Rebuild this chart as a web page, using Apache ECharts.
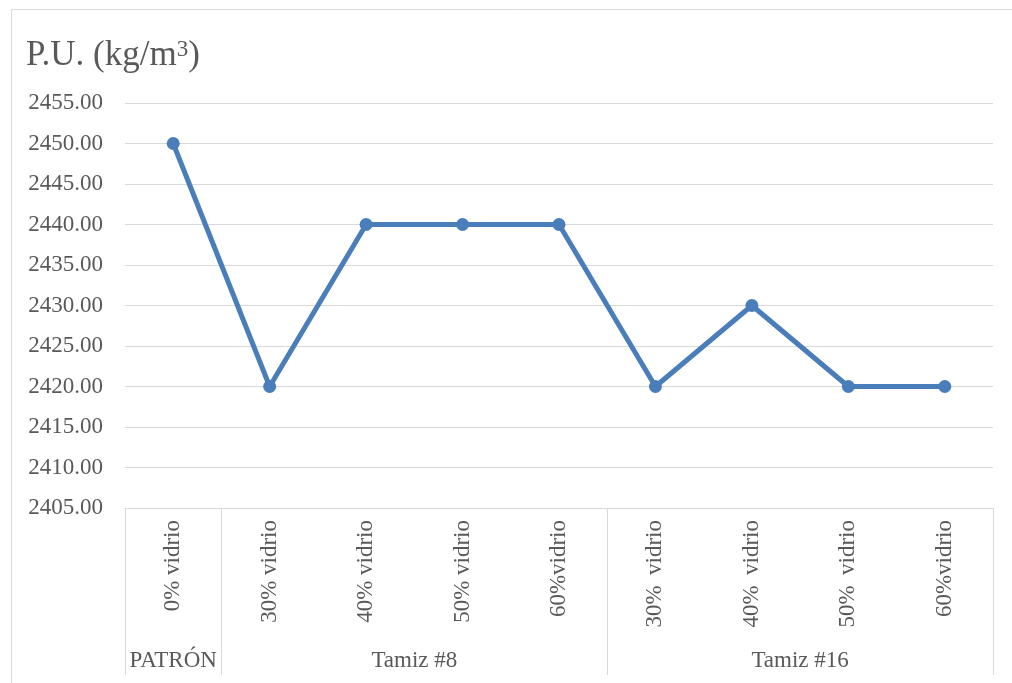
<!DOCTYPE html>
<html lang="es">

<head>
  <meta charset="UTF-8">
  <title>P.U. (kg/m3)</title>
  <style>
    html, body { margin: 0; padding: 0; background: #fff; }
    #main { width: 1012px; height: 683px; }
  </style>
</head>

<body>
<div id="main"></div>
<script src="https://cdn.jsdelivr.net/npm/echarts@6/dist/echarts.min.js"></script>
<script>
  // datos
  const categories = ['0% vidrio', '30% vidrio', '40% vidrio', '50% vidrio', '60%vidrio',
    '30% \u2009vidrio', '40% \u2009vidrio', '50% \u2009vidrio', '60%vidrio'];
  const values = [2450, 2420, 2440, 2440, 2440, 2420, 2430, 2420, 2420];
  const groups = ['PATRÓN', 'Tamiz #8', 'Tamiz #16'];
  const groupSizes = [1, 4, 4];

  // limites y centros de cada grupo
  const bounds = [0];
  const centers = [];
  groupSizes.forEach(n => {
    const start = bounds[bounds.length - 1];
    centers.push(start + n / 2);
    bounds.push(start + n);
  });

  const font = '"Liberation Serif", "Times New Roman", serif';
  const gray = '#595959';
  const lineGray = '#d9d9d9';

  let chart = echarts.init(document.getElementById('main'));
  let option = {
    backgroundColor: '#fff',
    animation: false,
    textStyle: { fontFamily: font },
    title: {
      text: '{a|P.U. (kg/m}{b|3}{a|)}',
      left: 21,
      top: 28,
      textStyle: {
        fontWeight: 'normal',
        rich: {
          a: { fontFamily: font, fontSize: 35, fontWeight: 'normal', color: gray, lineHeight: 46 },
          b: { fontFamily: font, fontSize: 23, fontWeight: 'normal', color: gray, verticalAlign: 'top', lineHeight: 30, padding: [5, 0, 0, 0] }
        }
      }
    },
    graphic: [{
      type: 'rect',
      left: 9,
      top: 7,
      shape: { width: 1100, height: 800 },
      style: { fill: 'none', stroke: lineGray, lineWidth: 1 },
      z: -10
    }],
    grid: { left: 125, right: 19, top: 103, bottom: 175 },
    xAxis: [{
      type: 'category',
      data: categories,
      boundaryGap: true,
      axisLine: { lineStyle: { color: lineGray, width: 1 } },
      axisTick: { show: false },
      axisLabel: {
        rotate: 90,
        interval: 0,
        margin: 12,
        color: gray,
        fontFamily: font,
        fontSize: 23
      }
    }, {
      type: 'value',
      position: 'bottom',
      min: 0,
      max: bounds[bounds.length - 1],
      axisLine: { show: false },
      splitLine: { show: false },
      axisTick: {
        show: true,
        customValues: bounds,
        length: 167,
        lineStyle: { color: lineGray, width: 1 }
      },
      axisLabel: {
        customValues: centers,
        margin: 141,
        color: gray,
        fontFamily: font,
        fontSize: 23,
        formatter: v => {
          const i = centers.indexOf(v);
          return i >= 0 ? groups[i] : '';
        }
      }
    }],
    yAxis: {
      type: 'value',
      min: 2405,
      max: 2455,
      interval: 5,
      axisLine: { show: false },
      axisTick: { show: false },
      splitLine: { lineStyle: { color: lineGray, width: 1 } },
      axisLabel: {
        margin: 22,
        color: gray,
        fontFamily: font,
        fontSize: 23,
        formatter: v => v.toFixed(2)
      }
    },
    series: [{
      type: 'line',
      xAxisIndex: 0,
      data: values,
      symbol: 'circle',
      symbolSize: 13,
      lineStyle: { color: '#4a7ebb', width: 5 },
      itemStyle: { color: '#4a7ebb' }
    }]
  };
  chart.setOption(option);
</script>
</body>

</html>
